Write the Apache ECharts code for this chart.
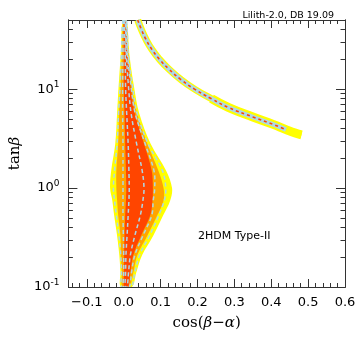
<!DOCTYPE html>
<html>
<head>
<meta charset="utf-8">
<script src="https://cdn.jsdelivr.net/npm/echarts@6/dist/echarts.min.js"></script>
<style>
html, body { margin: 0; padding: 0; background: #fff; }
#chart { width: 364px; height: 340px; }
</style>
</head>
<body>
<div id="chart"></div>
<script>
// tan(beta) levels where the central region boundaries were read
var tbLevels = [50, 23, 10.5, 5.7, 2.8, 1.5, 1.0, 0.75, 0.53, 0.33, 0.21, 0.14, 0.1];

// central region, cos(beta-alpha) left / right edges at each level
var yellowL = [-0.003, -0.008, -0.014, -0.018, -0.023, -0.034, -0.037, -0.031, -0.026, -0.018, -0.012, -0.009, -0.008];
var yellowR = [0.008, 0.015, 0.028, 0.042, 0.073, 0.115, 0.131, 0.126, 0.107, 0.080, 0.050, 0.034, 0.022];
var orangeL = [-0.001, -0.005, -0.009, -0.013, -0.015, -0.020, -0.020, -0.018, -0.015, -0.009, -0.008, -0.005, -0.004];
var orangeR = [0.007, 0.013, 0.022, 0.036, 0.064, 0.094, 0.108, 0.108, 0.091, 0.064, 0.037, 0.026, 0.015];
var redL = [0.0, 0.0, 0.0, 0.002, 0.004, 0.006, 0.007, 0.006, 0.004, 0.002, 0.001, 0.001, 0.001];
var redR = [0.005, 0.010, 0.019, 0.030, 0.055, 0.076, 0.079, 0.078, 0.072, 0.047, 0.026, 0.018, 0.012];

// dashed comparison contours
var dash1L = [-0.002, -0.006, -0.010, -0.014, -0.018, -0.025, -0.028, -0.025, -0.020, -0.013, -0.008, -0.006, -0.005];
var dash1R = [0.007, 0.012, 0.024, 0.036, 0.066, 0.105, 0.114, 0.110, 0.095, 0.070, 0.043, 0.030, 0.020];
var dash2L = [0.0, -0.002, -0.003, -0.003, -0.002, -0.002, -0.002, -0.002, -0.002, -0.001, 0.0, 0.0, 0.0];
var dash2R = [0.006, 0.010, 0.020, 0.031, 0.058, 0.082, 0.084, 0.080, 0.076, 0.052, 0.030, 0.021, 0.015];
var dash3L = [0.002, 0.004, 0.005, 0.008, 0.012, 0.014, 0.015, 0.014, 0.012, 0.009, 0.006, 0.005, 0.004];
var dash3R = [0.004, 0.007, 0.013, 0.020, 0.035, 0.050, 0.055, 0.052, 0.045, 0.030, 0.018, 0.013, 0.009];

// wrong-sign arm (centre line)
var armT = [50, 40, 32, 25, 20, 16, 12.5, 10, 8, 6.5, 5.2, 4.4, 3.9, 3.6, 3.45];
var armX = [0.038, 0.048, 0.060, 0.077, 0.097, 0.122, 0.155, 0.192, 0.238, 0.285, 0.352, 0.405, 0.440, 0.465, 0.482];

var xMajor = [-0.1, 0, 0.1, 0.2, 0.3, 0.4, 0.5, 0.6];
var yMajor = [0.1, 1, 10];
var yMinor = [0.2, 0.3, 0.4, 0.5, 0.6, 0.7, 0.8, 0.9, 2, 3, 4, 5, 6, 7, 8, 9, 20, 30, 40, 50];

var xMinor = [];
for (var k = -7; k <= 30; k++) {
    if (k % 5 !== 0) xMinor.push(+(k * 0.02).toFixed(2));
}

function outline(L, R) {
    var pts = [];
    for (var i = 0; i < tbLevels.length; i++) pts.push([L[i], tbLevels[i]]);
    for (var j = tbLevels.length - 1; j >= 0; j--) pts.push([R[j], tbLevels[j]]);
    return pts;
}

function polySeries(pts, style) {
    return {
        type: 'custom',
        xAxisIndex: 0,
        yAxisIndex: 0,
        clip: true,
        silent: true,
        data: [0],
        renderItem: function (params, api) {
            var p = pts.map(function (d) { return api.coord(d); });
            return {
                type: 'polygon',
                shape: { points: p, smooth: 0.35 },
                style: style
            };
        }
    };
}

var armData = armX.map(function (x, i) { return [x, armT[i]]; });

var myChart = echarts.init(document.getElementById('chart'));
var frame = '#333';
var font = 'DejaVu Sans';

function xAxisDef(pos, ticks, len, labels) {
    return {
        type: 'value', min: -0.15, max: 0.6, position: pos,
        axisLine: { show: true, onZero: false, lineStyle: { color: frame, width: 1 } },
        axisTick: { show: true, inside: true, length: len, customValues: ticks, lineStyle: { color: frame } },
        axisLabel: labels ? {
            show: true, customValues: xMajor, margin: 9, fontSize: 13, color: '#000', fontFamily: font,
            formatter: function (v) { return (v < 0 ? '\u2212' : '') + Math.abs(v).toFixed(1); }
        } : { show: false },
        splitLine: { show: false }
    };
}

function yAxisDef(pos, ticks, len, labels) {
    return {
        type: 'log', logBase: 10, min: 0.1, max: 50, position: pos,
        axisLine: { show: true, onZero: false, lineStyle: { color: frame, width: 1 } },
        axisTick: { show: true, inside: true, length: len, customValues: ticks, lineStyle: { color: frame } },
        axisLabel: labels ? {
            show: true, customValues: yMajor, margin: 9, fontSize: 13, color: '#000', fontFamily: font,
            formatter: function (v) { return '10{s|' + Math.round(Math.log10(v)) + '}'; },
            rich: { s: { fontSize: 9, fontFamily: font, color: '#000', padding: [0, 0, 9, 0] } }
        } : { show: false },
        splitLine: { show: false }
    };
}

var xs = [
    xAxisDef('bottom', xMajor, 8, true),
    xAxisDef('bottom', xMinor, 4, false),
    xAxisDef('top', xMajor, 8, false),
    xAxisDef('top', xMinor, 4, false)
];
xs[0].name = 'cos({i|β}\u2212{i|α})';
xs[0].nameLocation = 'middle';
xs[0].nameGap = 29;
xs[0].nameTextStyle = {
    fontSize: 15, fontFamily: 'DejaVu Serif', color: '#000',
    rich: { i: { fontSize: 15, fontFamily: 'DejaVu Serif', fontStyle: 'italic', color: '#000' } }
};

var ys = [
    yAxisDef('left', yMajor, 9, true),
    yAxisDef('left', yMinor, 4.5, false),
    yAxisDef('right', yMajor, 9, false),
    yAxisDef('right', yMinor, 4.5, false)
];
ys[0].name = 'tan{i|β}';
ys[0].nameLocation = 'middle';
ys[0].nameGap = 43;
ys[0].nameTextStyle = {
    fontSize: 15, fontFamily: 'DejaVu Serif', color: '#000',
    rich: { i: { fontSize: 15, fontFamily: 'DejaVu Serif', fontStyle: 'italic', color: '#000' } }
};

var dashStyle = { fill: 'none', stroke: '#add8e6', lineWidth: 1.5, lineDash: [4, 3] };

var option = {
    backgroundColor: '#fff',
    animation: false,
    title: {
        text: 'Lilith-2.0, DB 19.09',
        right: 25, top: 6,
        textStyle: { fontSize: 9.5, fontWeight: 'normal', fontFamily: font, color: '#000' }
    },
    graphic: [{
        type: 'text', left: 198, top: 231,
        style: { text: '2HDM Type-II', fontSize: 11, fontFamily: font, fill: '#000' }
    }],
    grid: { left: 68, right: 19, top: 20, bottom: 53, containLabel: false },
    xAxis: xs,
    yAxis: ys,
    series: [
        polySeries(outline(yellowL, yellowR), { fill: '#ffff00' }),
        polySeries(outline(orangeL, orangeR), { fill: '#ffa500' }),
        polySeries(outline(redL, redR), { fill: '#ff4500' }),
        polySeries(outline(dash1L, dash1R), dashStyle),
        polySeries(outline(dash2L, dash2R), dashStyle),
        polySeries(outline(dash3L, dash3R), dashStyle),
        {
            type: 'line', data: armData, smooth: 0.5, symbol: 'none', silent: true,
            lineStyle: { color: '#ffff00', width: 7 }
        },
        {
            type: 'line', data: armData.slice(8), smooth: 0.5, symbol: 'none', silent: true,
            lineStyle: { color: '#ffff00', width: 9 }
        },
        {
            type: 'line', data: armData.slice(0, -2), smooth: 0.5, symbol: 'none', silent: true,
            lineStyle: { color: '#add8e6', width: 4.5 }
        },
        {
            type: 'line', data: armData.slice(0, -2), smooth: 0.5, symbol: 'none', silent: true,
            lineStyle: { color: '#ff4500', width: 1.6, type: [3, 3] }
        }
    ]
};

myChart.setOption(option);
</script>
</body>
</html>
